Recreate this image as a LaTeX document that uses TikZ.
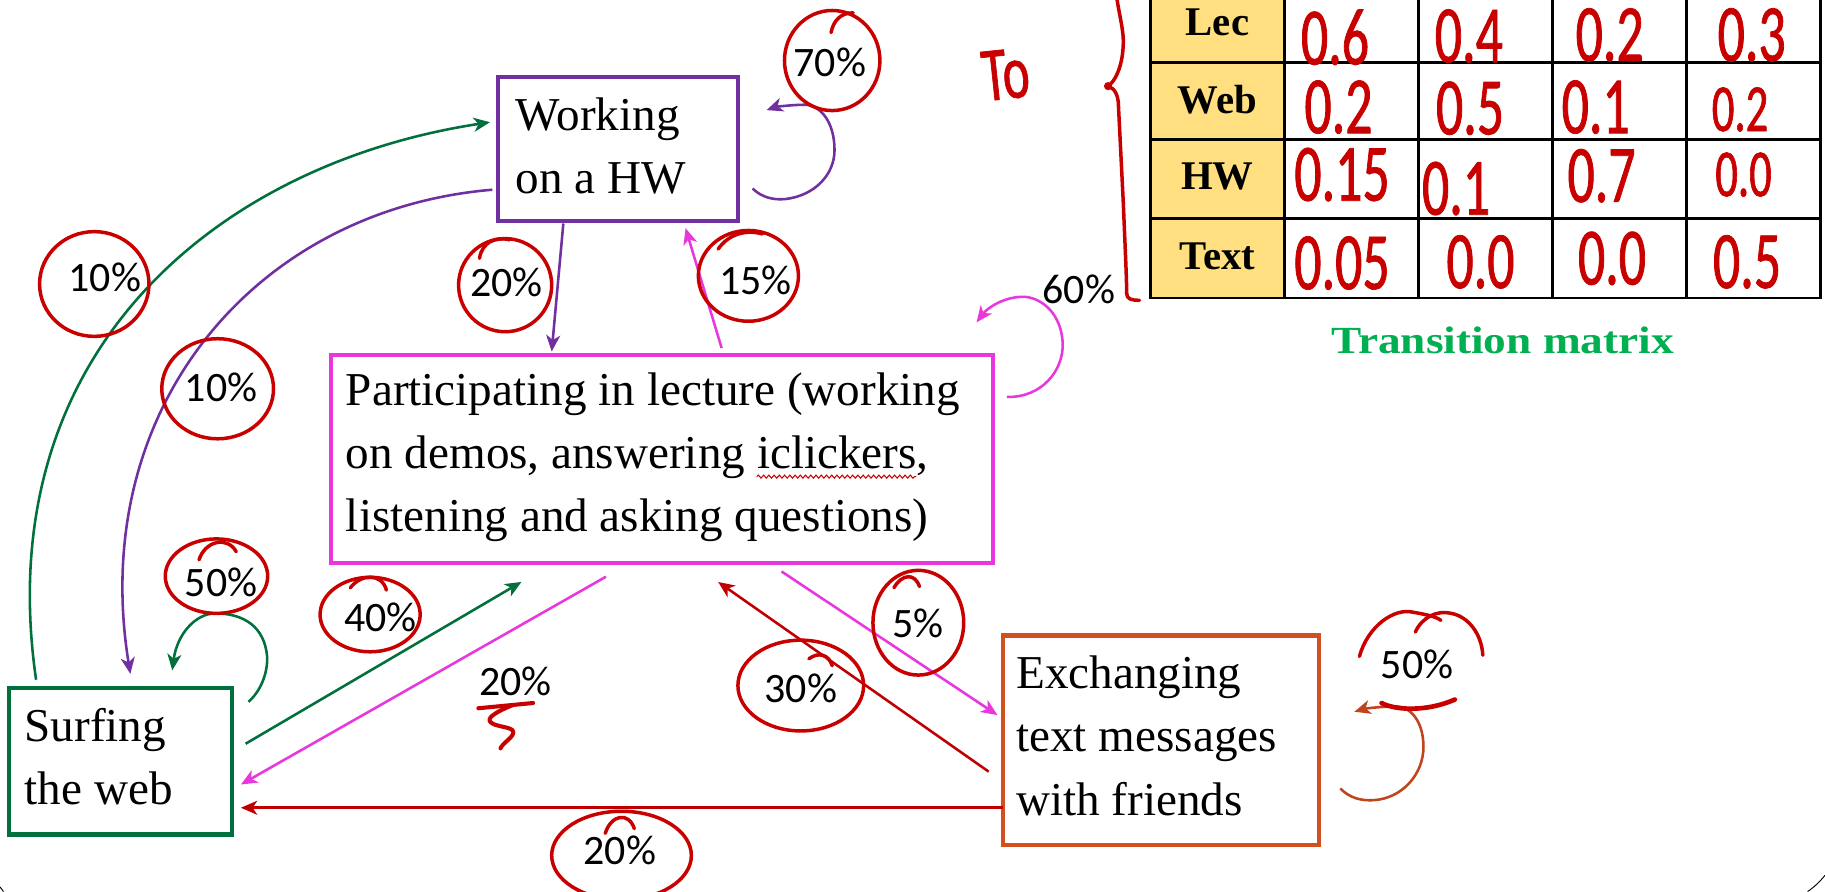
\documentclass[tikz,border=0pt]{standalone}
\usepackage{fontspec}
\setmainfont{Liberation Serif}
\newfontfamily\pctfont{Carlito}
\newfontfamily\handfont{Carlito}[FakeStretch=0.66, FakeBold=0.9]
\newfontfamily\titlefont{Liberation Serif}[FakeStretch=1.18]
\usetikzlibrary{arrows.meta,decorations.pathmorphing,calc}
\definecolor{hwpurple}{RGB}{112,48,160}
\definecolor{lecmag}{RGB}{232,56,221}
\definecolor{webgreen}{RGB}{0,112,60}
\definecolor{txtorange}{RGB}{210,80,30}
\definecolor{looporange}{RGB}{192,68,28}
\definecolor{arrred}{RGB}{192,0,0}
\definecolor{handred}{RGB}{200,0,0}
\definecolor{hdrfill}{RGB}{255,223,128}
\definecolor{titlegreen}{RGB}{0,176,80}
\newlength\wavestart
\newlength\wavelen
\tikzset{
  statebox/.style={draw, line width=3.5pt, inner sep=0pt, outer sep=0pt, anchor=north west},
  boxtext/.style={anchor=base west, inner sep=0pt, font=\fontsize{40.5}{54.5}\selectfont},
  arr/.style={line width=2.2pt, -{Stealth[length=14pt,width=12pt,inset=4pt]}},
  pct/.style={font=\pctfont\fontsize{36}{36}\selectfont, inner sep=0pt},
  hand/.style={draw=handred, line width=3pt, line cap=round, line join=round},
  hdr/.style={font=\bfseries\fontsize{35}{35}\selectfont, inner sep=0pt},
  hnum/.style={font=\handfont\fontsize{70}{70}\selectfont, text=handred, inner sep=0pt},
  hnumsmall/.style={font=\handfont\fontsize{58}{58}\selectfont, text=handred, inner sep=0pt},
  tabline/.style={line width=2.5pt, black}
}
\begin{document}
\settowidth\wavestart{\fontsize{40.5}{54.5}\selectfont on demos, answering\ }%
\settowidth\wavelen{\fontsize{40.5}{54.5}\selectfont iclickers}%
\begin{tikzpicture}[x=1pt,y=-1pt]
\useasboundingbox (0,0) rectangle (1568,766);
\fill[white] (0,0) rectangle (1568,766);

% ---------- boxes ----------
\node[statebox, draw=hwpurple, minimum width=206pt, minimum height=123pt] (hw) at (428,66.5) {};
\node[statebox, draw=lecmag, minimum width=569pt, minimum height=178.5pt] (lec) at (284,305) {};
\node[statebox, draw=webgreen, minimum width=191pt, minimum height=126pt] (web) at (8,591) {};
\node[statebox, draw=txtorange, minimum width=271.5pt, minimum height=180pt] (txt) at (861.5,546) {};

\node[boxtext] (hwlabel) at (443,111.7) {\begin{tabular}[t]{@{}l@{}}Working\\on a HW\end{tabular}};
\node[boxtext] (leclabel) at (297,348) {\begin{tabular}[t]{@{}l@{}}Participating in lecture (working\\on demos, answering iclickers,\\listening and asking questions)\end{tabular}};
\node[boxtext] (weblabel) at (21,637) {\begin{tabular}[t]{@{}l@{}}Surfing\\the web\end{tabular}};
\node[boxtext] (txtlabel) at (873,591.5) {\begin{tabular}[t]{@{}l@{}}Exchanging\\text messages\\with friends\end{tabular}};
% wavy spell-check underline under "iclickers"
\draw[decorate, decoration={snake, amplitude=1.3pt, segment length=4.5pt}, handred, line width=0.9pt]
  ([xshift=\wavestart, yshift=-61.5pt]leclabel.base west) -- ++(\wavelen,0pt);

% ---------- connectors ----------
\draw[arr, webgreen] ($(web.north west)+(23,-7)$) .. controls (-10,300) and (190,140) .. ($(hw.north west)+(-7,38.5)$);
\draw[arr, hwpurple] ($(hw.north west)+(-5,96.5)$) .. controls (220,180) and (75,350) .. ($(web.north west)+(104,-12)$);
\draw[arr, hwpurple] ($(hw.south west)+(56,2.5)$) -- ($(lec.north west)+(190,-3)$);
\draw[arr, lecmag] ($(lec.north west)+(336,-6)$) -- ($(hw.south west)+(161,6.5)$);
\draw[arr, lecmag] ($(lec.north east)+(12,36)$) .. controls (895,342) and (914,318) .. (913,295) .. controls (912,268) and (893,255) .. (879,255) .. controls (862,255) and (848,265) .. ($(lec.north east)+(-14,-28)$);
\draw[arr, hwpurple] ($(hw.north east)+(12.6,95.5)$) .. controls (655,170) and (665,172) .. (675,171) .. controls (700,168) and (717,150) .. (717,129) .. controls (717,105) and (705,90) .. (691,90) .. controls (680,90) and (666,92) .. ($(hw.north east)+(24.6,28.1)$);
\draw[arr, webgreen] ($(web.north east)+(14.5,12)$) .. controls (228,590) and (231,570) .. (229,560) .. controls (225,535) and (205,527) .. (185,527) .. controls (168,527) and (152,545) .. ($(web.north west)+(140,-15)$);
\draw[arr, webgreen] ($(web.north east)+(12,48)$) -- ($(lec.south west)+(164,16.5)$);
\draw[arr, lecmag] ($(lec.south west)+(236.6,12)$) -- ($(web.north east)+(8,83)$);
\draw[arr, arrred] ($(txt.north west)+(-12,117)$) -- ($(lec.south west)+(333,16.5)$);
\draw[arr, lecmag] ($(lec.south west)+(387.5,7.5)$) -- ($(txt.north west)+(-4.5,68.4)$);
\draw[arr, arrred] ($(txt.north west)+(0,148)$) -- ($(web.north east)+(8,103)$);
\draw[arr, looporange] ($(txt.north east)+(18.6,131.5)$) .. controls (1160,686) and (1170,688) .. (1180,687.5) .. controls (1205,686) and (1223,665) .. (1223,641.6) .. controls (1223,620) and (1212,607) .. (1199.5,607) .. controls (1185,607) and (1172,609) .. ($(txt.north east)+(30.6,65.5)$);

% ---------- percentage labels ----------
\node[pct] (p70) at (713,54) {70\%};
\node[pct] (p10a) at (90,238.5) {10\%};
\node[pct] (p10b) at (190,332.5) {10\%};
\node[pct] (p20a) at (435,243) {20\%};
\node[pct] (p15) at (649,240.7) {15\%};
\node[pct] (p60) at (927,249) {60\%};
\node[pct] (p50a) at (190,500) {50\%};
\node[pct] (p40) at (327,530.6) {40\%};
\node[pct] (p20b) at (443,585) {20\%};
\node[pct] (p5) at (789,535.5) {5\%};
\node[pct] (p30) at (688,591.5) {30\%};
\node[pct] (p50b) at (1217.5,571) {50\%};
\node[pct] (p20c) at (532.5,731) {20\%};

% ---------- handwritten circles ----------
\draw[hand] (715,52) ellipse [x radius=41, y radius=43];
\draw[hand] (714,28) .. controls (716,18) and (722,11) .. (733,11);
\draw[hand] (81,244) ellipse [x radius=47, y radius=45];
\draw[hand] (187,334) ellipse [x radius=48, y radius=43];
\draw[hand] (434,245) ellipse [x radius=40, y radius=40];
\draw[hand] (412,222) .. controls (414,208) and (426,203) .. (438,206);
\draw[hand] (643,237) ellipse [x radius=43, y radius=39];
\draw[hand] (617,214) .. controls (626,201) and (641,197) .. (655,201);
\draw[hand] (186,495) ellipse [x radius=44, y radius=32];
\draw[hand] (171,481) .. controls (176,465) and (195,460) .. (203,474);
\draw[hand] (318,528) ellipse [x radius=43, y radius=32];
\draw[hand] (301,505) .. controls (310,493) and (328,492) .. (332,507);
\draw[hand] (789,535) ellipse [x radius=39, y radius=45];
\draw[hand] (768,505) .. controls (775,493) and (786,492) .. (790,504);
\draw[hand] (688,589) ellipse [x radius=54, y radius=39];
\draw[hand] (695,566) .. controls (703,560) and (712,562) .. (715,572);
\draw[hand] (534,735) ellipse [x radius=60, y radius=38];
\draw[hand] (520,716) .. controls (525,700) and (540,697) .. (545,712);
% 50% near the text box: open arcs
\draw[hand] (1168,564) .. controls (1175,538) and (1198,522) .. (1214,526) .. controls (1226,528) and (1234,530) .. (1238,533);
\draw[hand] (1216,543) .. controls (1222,530) and (1235,524) .. (1247,527) .. controls (1262,530) and (1273,545) .. (1274,563);
\draw[hand, line width=4pt] (1187,604) .. controls (1198,610) and (1225,612) .. (1250,601);
% squiggle under the middle 20%
\draw[hand, line width=3.5pt] (411,608.5) -- (458,604);
\draw[hand, line width=3.5pt] (440,606) .. controls (430,610) and (418,616) .. (421,620) .. controls (425,625) and (441,624) .. (441,629) .. controls (441,634) and (432,638) .. (430,643);

% ---------- transition matrix ----------
\fill[hdrfill] (988.6,-12) rectangle (1103.6,256);
\foreach \yy in {54,120,188,256} \draw[tabline] (988.6,\yy) -- (1563.8,\yy);
\foreach \xx in {988.6,1103.6,1218.7,1333.7,1448.8,1563.8} \draw[tabline] (\xx,-12) -- (\xx,257.2);
\node[hdr] (hLec) at (1046,19) {Lec};
\node[hdr] (hWeb) at (1046,86) {Web};
\node[hdr] (hHW) at (1046,152) {HW};
\node[hdr] (hText) at (1046,220.5) {Text};

\node[hnum] (c11) at (1147,32) {0.6};
\node[hnum] (c12) at (1262,31) {0.4};
\node[hnum] (c13) at (1383,30) {0.2};
\node[hnum] (c14) at (1505,30) {0.3};
\node[hnum] (c21) at (1150,92) {0.2};
\node[hnum] (c22) at (1263,93) {0.5};
\node[hnum] (c23) at (1371,92) {0.1};
\node[hnumsmall] (c24) at (1495,94) {0.2};
\node[hnum] (c31) at (1153,150) {0.15};
\node[hnum] (c32) at (1251,162) {0.1};
\node[hnum] (c33) at (1376,151) {0.7};
\node[hnumsmall] (c34) at (1498,150) {0.0};
\node[hnum] (c41) at (1153,226) {0.05};
\node[hnum] (c42) at (1272,225) {0.0};
\node[hnum] (c43) at (1385,222) {0.0};
\node[hnum] (c44) at (1501,225) {0.5};

\node[font=\titlefont\bfseries\fontsize{33}{33}\selectfont, text=titlegreen, inner sep=0pt] (tm) at (1291,292) {Transition matrix};

% brace and "To"
\draw[hand] (959.5,-2) .. controls (962,15) and (966,28) .. (965,40) .. controls (964,58) and (958,70) .. (952,74) .. controls (958,76) and (961,82) .. (961,92) -- (965,172) .. controls (967,220) and (968,240) .. (968,252) .. controls (968,257) and (972,258) .. (979,258);
\fill[handred] (952,74) circle (3.5);
\node[font=\handfont\fontsize{66}{66}\selectfont, text=handred, inner sep=0pt, rotate=6] (tolabel) at (864,64) {To};

% slide frame corners
\draw[line width=0.8pt] (1553,766) .. controls (1559,762) and (1564,757) .. (1568,752);
\draw[line width=0.8pt] (0,762) -- (3,766);
\end{tikzpicture}
\end{document}
